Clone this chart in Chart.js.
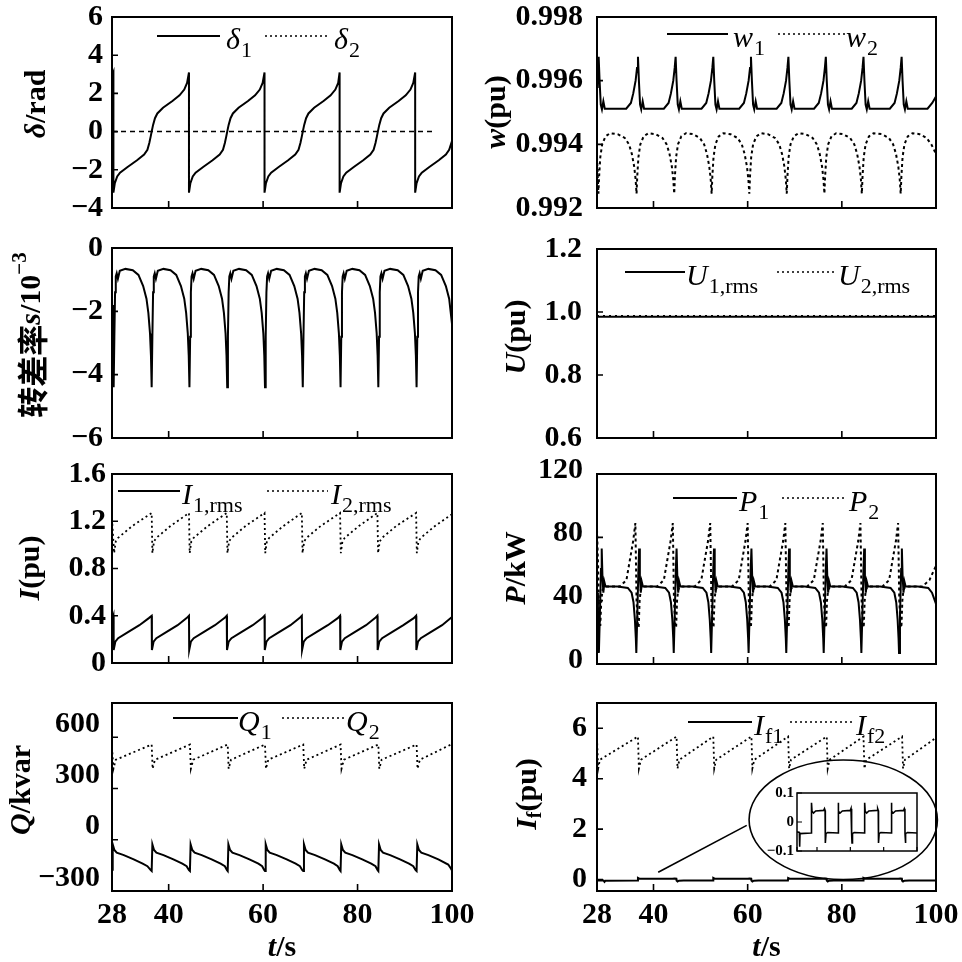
<!DOCTYPE html>
<html>
<head>
<meta charset="utf-8">
<script src="https://cdn.jsdelivr.net/npm/chart.js@4.4.1/dist/chart.umd.min.js"></script>
<style>
  html, body { margin: 0; padding: 0; background: #fff; }
  #wrap { position: relative; width: 962px; height: 962px; overflow: hidden; background: #fff; }
  #wrap canvas { position: absolute; left: 0; top: 0; }
</style>
</head>
<body>
<div id="wrap"></div>
<script>
// time axis (s)
const tAxis = [28, 40, 60, 80, 100];
const tAxisLabels = ['28', '40', '60', '80', '100'];

// rotor angle (rad)
const deltaTicks = [-4, -2, 0, 2, 4, 6];
const deltaTickLabels = ['\u22124', '\u22122', '0', '2', '4', '6'];
const delta1 = [[28,2.9],[28.3,3.1],[28.3,-3.2],[28.6,-2.7],[29.1,-2.35],[29.7,-2.15],[31.3,-1.85],[33.3,-1.5],[34.8,-1.2],[35.5,-0.95],[35.9,-0.6],[36.2,-0.25],[36.4,0],[36.7,0.35],[37.1,0.7],[37.6,0.95],[38.8,1.25],[40.8,1.6],[42.3,1.9],[43.3,2.2],[43.9,2.55],[44.3,3.1],
  [44.3,-3.2],[44.6,-2.7],[45.1,-2.35],[45.7,-2.15],[47.3,-1.85],[49.3,-1.5],[50.8,-1.2],[51.5,-0.95],[51.9,-0.6],[52.2,-0.25],[52.4,0],[52.7,0.35],[53.1,0.7],[53.6,0.95],[54.8,1.25],[56.8,1.6],[58.3,1.9],[59.3,2.2],[59.9,2.55],[60.3,3.1],
  [60.3,-3.2],[60.6,-2.7],[61.1,-2.35],[61.7,-2.15],[63.3,-1.85],[65.3,-1.5],[66.8,-1.2],[67.5,-0.95],[67.9,-0.6],[68.2,-0.25],[68.4,0],[68.7,0.35],[69.1,0.7],[69.6,0.95],[70.8,1.25],[72.8,1.6],[74.3,1.9],[75.3,2.2],[75.9,2.55],[76.2,3.1],
  [76.2,-3.2],[76.5,-2.7],[77.0,-2.35],[77.6,-2.15],[79.2,-1.85],[81.2,-1.5],[82.7,-1.2],[83.4,-0.95],[83.8,-0.6],[84.1,-0.25],[84.3,0],[84.6,0.35],[85.0,0.7],[85.5,0.95],[86.7,1.25],[88.7,1.6],[90.2,1.9],[91.2,2.2],[91.8,2.55],[92.2,3.1],
  [92.2,-3.2],[92.5,-2.7],[93.0,-2.35],[93.6,-2.15],[95.2,-1.85],[97.2,-1.5],[98.7,-1.2],[99.4,-0.95],[100,-0.5]];
const delta2 = [[28,0],[96.5,0]];

// speed (pu)
const wTicks = [0.992, 0.994, 0.996, 0.998];
const wTickLabels = ['0.992', '0.994', '0.996', '0.998'];
const w1 = [[28,0.9958],[28.15,0.9963],[28.35,0.99675],[28.55,0.996],[28.8,0.99525],[29.05,0.9951],[29.35,0.99535],[29.65,0.99512],
  [34.2,0.99512],[35.2,0.9953],[35.7,0.9956],[36.2,0.996],[36.5,0.9964],[36.7,0.99675],[36.9,0.996],[37.15,0.99525],[37.4,0.9951],[37.7,0.99535],[38.0,0.99512],
  [42.2,0.99512],[43.2,0.9953],[43.7,0.9956],[44.2,0.996],[44.5,0.9964],[44.7,0.99675],[44.9,0.996],[45.15,0.99525],[45.4,0.9951],[45.7,0.99535],[46.0,0.99512],
  [50.2,0.99512],[51.2,0.9953],[51.7,0.9956],[52.2,0.996],[52.5,0.9964],[52.7,0.99675],[52.9,0.996],[53.15,0.99525],[53.4,0.9951],[53.7,0.99535],[54.0,0.99512],
  [58.2,0.99512],[59.2,0.9953],[59.7,0.9956],[60.2,0.996],[60.5,0.9964],[60.7,0.99675],[60.9,0.996],[61.15,0.99525],[61.4,0.9951],[61.7,0.99535],[62.0,0.99512],
  [66.15,0.99512],[67.15,0.9953],[67.65,0.9956],[68.15,0.996],[68.45,0.9964],[68.65,0.99675],[68.85,0.996],[69.1,0.99525],[69.35,0.9951],[69.65,0.99535],[69.95,0.99512],
  [74.1,0.99512],[75.1,0.9953],[75.6,0.9956],[76.1,0.996],[76.4,0.9964],[76.6,0.99675],[76.8,0.996],[77.05,0.99525],[77.3,0.9951],[77.6,0.99535],[77.9,0.99512],
  [82.1,0.99512],[83.1,0.9953],[83.6,0.9956],[84.1,0.996],[84.4,0.9964],[84.6,0.99675],[84.8,0.996],[85.05,0.99525],[85.3,0.9951],[85.6,0.99535],[85.9,0.99512],
  [90.2,0.99512],[91.2,0.9953],[91.7,0.9956],[92.2,0.996],[92.5,0.9964],[92.7,0.99675],[92.9,0.996],[93.15,0.99525],[93.4,0.9951],[93.7,0.99535],[94.0,0.99512],
  [98.2,0.99512],[99.2,0.9953],[100,0.9955]];
const w2 = [[28,0.9936],[28.15,0.993],[28.3,0.99245],[28.45,0.993],[28.7,0.9936],[29.1,0.994],[29.8,0.99425],[30.8,0.99435],
  [32.4,0.99432],[33.9,0.9942],[34.8,0.994],[35.4,0.9937],[35.9,0.9933],[36.2,0.9929],[36.4,0.99245],[36.55,0.993],[36.8,0.9936],[37.2,0.994],[37.9,0.99425],[38.9,0.99435],
  [40.4,0.99432],[41.9,0.9942],[42.8,0.994],[43.4,0.9937],[43.9,0.9933],[44.2,0.9929],[44.4,0.99245],[44.55,0.993],[44.8,0.9936],[45.2,0.994],[45.9,0.99425],[46.9,0.99435],
  [48.35,0.99432],[49.85,0.9942],[50.75,0.994],[51.35,0.9937],[51.85,0.9933],[52.15,0.9929],[52.35,0.99245],[52.5,0.993],[52.75,0.9936],[53.15,0.994],[53.85,0.99425],[54.85,0.99435],
  [56.35,0.99432],[57.85,0.9942],[58.75,0.994],[59.35,0.9937],[59.85,0.9933],[60.15,0.9929],[60.35,0.99245],[60.5,0.993],[60.75,0.9936],[61.15,0.994],[61.85,0.99425],[62.85,0.99435],
  [64.3,0.99432],[65.8,0.9942],[66.7,0.994],[67.3,0.9937],[67.8,0.9933],[68.1,0.9929],[68.3,0.99245],[68.45,0.993],[68.7,0.9936],[69.1,0.994],[69.8,0.99425],[70.8,0.99435],
  [72.3,0.99432],[73.8,0.9942],[74.7,0.994],[75.3,0.9937],[75.8,0.9933],[76.1,0.9929],[76.3,0.99245],[76.45,0.993],[76.7,0.9936],[77.1,0.994],[77.8,0.99425],[78.8,0.99435],
  [80.25,0.99432],[81.75,0.9942],[82.65,0.994],[83.25,0.9937],[83.75,0.9933],[84.05,0.9929],[84.25,0.99245],[84.4,0.993],[84.65,0.9936],[85.05,0.994],[85.75,0.99425],[86.75,0.99435],
  [88.5,0.99432],[90.0,0.9942],[90.9,0.994],[91.5,0.9937],[92.0,0.9933],[92.3,0.9929],[92.5,0.99245],[92.65,0.993],[92.9,0.9936],[93.3,0.994],[94.0,0.99425],[95.0,0.99435],
  [96.5,0.99432],[98.0,0.9942],[99.0,0.994],[100,0.9937]];

// slip (x 10^-3)
const slipTicks = [-6, -4, -2, 0];
const slipTickLabels = ['\u22126', '\u22124', '\u22122', '0'];
const slip = [[28,-1.8],[28.2,-3.4],[28.35,-4.4],[28.5,-2.8],[28.65,-1.4],[28.8,-0.9],[29.0,-0.8],[29.25,-0.97],[29.65,-0.72],[30.85,-0.66],
  [32.4,-0.7],[33.6,-0.85],[34.6,-1.2],[35.3,-1.6],[35.7,-2.05],[36.05,-2.7],[36.25,-3.4],[36.4,-4.4],[36.55,-2.8],[36.7,-1.4],[36.85,-0.9],[37.05,-0.8],[37.3,-0.97],[37.7,-0.72],[38.9,-0.66],
  [40.4,-0.7],[41.6,-0.85],[42.6,-1.2],[43.3,-1.6],[43.7,-2.05],[44.05,-2.7],[44.25,-3.4],[44.4,-4.4],[44.55,-2.8],[44.7,-1.4],[44.85,-0.9],[45.05,-0.8],[45.3,-0.97],[45.7,-0.72],[46.9,-0.66],
  [48.4,-0.7],[49.6,-0.85],[50.6,-1.2],[51.3,-1.6],[51.7,-2.05],[52.05,-2.7],[52.25,-3.4],[52.4,-4.4],[52.55,-2.8],[52.7,-1.4],[52.85,-0.9],[53.05,-0.8],[53.3,-0.97],[53.7,-0.72],[54.9,-0.66],
  [56.4,-0.7],[57.6,-0.85],[58.6,-1.2],[59.3,-1.6],[59.7,-2.05],[60.05,-2.7],[60.25,-3.4],[60.4,-4.4],[60.55,-2.8],[60.7,-1.4],[60.85,-0.9],[61.05,-0.8],[61.3,-0.97],[61.7,-0.72],[62.9,-0.66],
  [64.4,-0.7],[65.6,-0.85],[66.6,-1.2],[67.3,-1.6],[67.7,-2.05],[68.05,-2.7],[68.25,-3.4],[68.4,-4.4],[68.55,-2.8],[68.7,-1.4],[68.85,-0.9],[69.05,-0.8],[69.3,-0.97],[69.7,-0.72],[70.9,-0.66],
  [72.4,-0.7],[73.6,-0.85],[74.6,-1.2],[75.3,-1.6],[75.7,-2.05],[76.05,-2.7],[76.25,-3.4],[76.4,-4.4],[76.55,-2.8],[76.7,-1.4],[76.85,-0.9],[77.05,-0.8],[77.3,-0.97],[77.7,-0.72],[78.9,-0.66],
  [80.4,-0.7],[81.6,-0.85],[82.6,-1.2],[83.3,-1.6],[83.7,-2.05],[84.05,-2.7],[84.25,-3.4],[84.4,-4.4],[84.55,-2.8],[84.7,-1.4],[84.85,-0.9],[85.05,-0.8],[85.3,-0.97],[85.7,-0.72],[86.9,-0.66],
  [88.5,-0.7],[89.7,-0.85],[90.7,-1.2],[91.4,-1.6],[91.8,-2.05],[92.15,-2.7],[92.35,-3.4],[92.5,-4.4],[92.65,-2.8],[92.8,-1.4],[92.95,-0.9],[93.15,-0.8],[93.4,-0.97],[93.8,-0.72],[95.0,-0.66],
  [96.5,-0.7],[97.7,-0.85],[98.7,-1.2],[99.4,-1.6],[100,-2.4]];

// terminal voltage (pu)
const uTicks = [0.6, 0.8, 1.0, 1.2];
const uTickLabels = ['0.6', '0.8', '1.0', '1.2'];
const u1 = [[28,0.985],[100,0.985]];
const u2 = [[28,0.988],[100,0.988]];

// stator current (pu)
const iTicks = [0, 0.4, 0.8, 1.2, 1.6];
const iTickLabels = ['0', '0.4', '0.8', '1.2', '1.6'];
const i1 = [[28,0.36],[28.3,0.4],[28.35,0.11],[28.7,0.18],[29.3,0.21],[31.3,0.26],[33.8,0.32],[35.8,0.38],
  [36.4,0.40],[36.45,0.11],[36.8,0.18],[37.4,0.21],[39.4,0.26],[41.9,0.32],[43.8,0.38],
  [44.3,0.40],[44.35,0.11],[44.7,0.18],[45.3,0.21],[47.3,0.26],[49.8,0.32],[51.8,0.38],
  [52.3,0.40],[52.35,0.11],[52.7,0.18],[53.3,0.21],[55.3,0.26],[57.8,0.32],[59.8,0.38],
  [60.3,0.40],[60.35,0.11],[60.7,0.18],[61.3,0.21],[63.3,0.26],[65.8,0.32],[67.7,0.38],
  [68.2,0.40],[68.25,0.11],[68.6,0.18],[69.2,0.21],[71.2,0.26],[73.7,0.32],[75.8,0.38],
  [76.3,0.40],[76.35,0.11],[76.7,0.18],[77.3,0.21],[79.3,0.26],[81.8,0.32],[83.7,0.38],
  [84.2,0.40],[84.25,0.11],[84.6,0.18],[85.2,0.21],[87.2,0.26],[89.7,0.32],[91.9,0.38],
  [92.4,0.40],[92.45,0.11],[92.8,0.18],[93.4,0.21],[95.4,0.26],[97.9,0.32],[100,0.39]];
const i2 = [[28,1.22],[28.45,0.93],[28.8,1.03],[29.3,1.06],[32.3,1.16],
  [36.4,1.27],[36.55,0.93],[36.9,1.03],[37.4,1.06],[40.4,1.16],
  [44.3,1.27],[44.45,0.93],[44.8,1.03],[45.3,1.06],[48.3,1.16],
  [52.3,1.27],[52.45,0.93],[52.8,1.03],[53.3,1.06],[56.3,1.16],
  [60.3,1.27],[60.45,0.93],[60.8,1.03],[61.3,1.06],[64.3,1.16],
  [68.2,1.27],[68.35,0.93],[68.7,1.03],[69.2,1.06],[72.2,1.16],
  [76.3,1.27],[76.45,0.93],[76.8,1.03],[77.3,1.06],[80.3,1.16],
  [84.2,1.27],[84.35,0.93],[84.7,1.03],[85.2,1.06],[88.2,1.16],
  [92.4,1.27],[92.55,0.93],[92.9,1.03],[93.4,1.06],[96.4,1.16],[100,1.26]];

// active power (kW)
const pTicks = [0, 40, 80, 120];
const pTickLabels = ['0', '40', '80', '120'];
const p1 = [[28,45],[28.2,20],[28.4,7],[28.6,30],[28.85,60],[29.0,73],[29.15,56],[29.35,45],[29.55,52],[29.8,49],
  [32.35,49],[34.55,48],[35.35,45],[35.75,39],[36.05,28],[36.25,16],[36.35,7],[36.55,30],[36.8,60],[36.95,73],[37.1,56],[37.3,45],[37.5,52],[37.75,49],
  [40.3,49],[42.5,48],[43.3,45],[43.7,39],[44.0,28],[44.2,16],[44.3,7],[44.5,30],[44.75,60],[44.9,73],[45.05,56],[45.25,45],[45.45,52],[45.7,49],
  [48.25,49],[50.45,48],[51.25,45],[51.65,39],[51.95,28],[52.15,16],[52.25,7],[52.45,30],[52.7,60],[52.85,73],[53.0,56],[53.2,45],[53.4,52],[53.65,49],
  [56.2,49],[58.4,48],[59.2,45],[59.6,39],[59.9,28],[60.1,16],[60.2,7],[60.4,30],[60.65,60],[60.8,73],[60.95,56],[61.15,45],[61.35,52],[61.6,49],
  [64.2,49],[66.4,48],[67.2,45],[67.6,39],[67.9,28],[68.1,16],[68.2,7],[68.4,30],[68.65,60],[68.8,73],[68.95,56],[69.15,45],[69.35,52],[69.6,49],
  [72.15,49],[74.35,48],[75.15,45],[75.55,39],[75.85,28],[76.05,16],[76.15,7],[76.35,30],[76.6,60],[76.75,73],[76.9,56],[77.1,45],[77.3,52],[77.55,49],
  [80.15,49],[82.35,48],[83.15,45],[83.55,39],[83.85,28],[84.05,16],[84.15,7],[84.35,30],[84.6,60],[84.75,73],[84.9,56],[85.1,45],[85.3,52],[85.55,49],
  [88.15,49],[90.35,48],[91.15,45],[91.55,39],[91.85,28],[92.05,16],[92.15,7],[92.35,30],[92.6,60],[92.75,73],[92.9,56],[93.1,45],[93.3,52],[93.55,49],
  [96.15,49],[98.35,48],[99.15,45],[100,38]];
const p2 = [[28,85],[28.25,60],[28.45,30],[28.7,24],[28.9,40],[29.2,47],[29.8,49],
  [32.85,49],[34.25,53],[35.0,66],[35.7,78],[36.15,89],[36.4,40],[36.65,26],[36.85,23],[37.05,40],[37.3,47],[37.75,49],
  [40.8,49],[42.2,53],[42.95,66],[43.65,78],[44.1,89],[44.35,40],[44.6,26],[44.8,23],[45.0,40],[45.25,47],[45.7,49],
  [48.75,49],[50.15,53],[50.9,66],[51.6,78],[52.05,89],[52.3,40],[52.55,26],[52.75,23],[52.95,40],[53.2,47],[53.65,49],
  [56.7,49],[58.1,53],[58.85,66],[59.55,78],[60.0,89],[60.25,40],[60.5,26],[60.7,23],[60.9,40],[61.15,47],[61.6,49],
  [64.7,49],[66.1,53],[66.85,66],[67.55,78],[68.0,89],[68.25,40],[68.5,26],[68.7,23],[68.9,40],[69.15,47],[69.6,49],
  [72.65,49],[74.05,53],[74.8,66],[75.5,78],[75.95,89],[76.2,40],[76.45,26],[76.65,23],[76.85,40],[77.1,47],[77.55,49],
  [80.65,49],[82.05,53],[82.8,66],[83.5,78],[83.95,89],[84.2,40],[84.45,26],[84.65,23],[84.85,40],[85.1,47],[85.55,49],
  [88.65,49],[90.05,53],[90.8,66],[91.5,78],[91.95,89],[92.2,40],[92.45,26],[92.65,23],[92.85,40],[93.1,47],[93.55,49],
  [97.15,49],[98.6,53],[100,62]];

// reactive power (kvar)
const qTicks = [-300, 0, 300, 600];
const qTickLabels = ['\u2212300', '0', '300', '600'];
const q1 = [[28,-175],[28.15,-27],[28.5,-60],[29.0,-76],[30.5,-90],[32.6,-115],[34.5,-140],[35.5,-155],[36.2,-178],[36.4,-183],
  [36.55,-27],[36.9,-60],[37.4,-76],[38.9,-90],[41.0,-115],[42.9,-140],[43.8,-155],[44.3,-178],[44.5,-183],
  [44.65,-27],[45.0,-60],[45.5,-76],[47.0,-90],[49.1,-115],[51.0,-140],[51.9,-155],[52.35,-178],[52.5,-183],
  [52.65,-27],[53.0,-60],[53.5,-76],[55.0,-90],[57.1,-115],[59.0,-140],[59.8,-155],[60.25,-178],[60.4,-183],
  [60.55,-27],[60.9,-60],[61.4,-76],[62.9,-90],[65.0,-115],[66.9,-140],[67.8,-155],[68.3,-178],[68.5,-183],
  [68.65,-27],[69.0,-60],[69.5,-76],[71.0,-90],[73.1,-115],[75.0,-140],[75.8,-155],[76.25,-178],[76.4,-183],
  [76.55,-27],[76.9,-60],[77.4,-76],[78.9,-90],[81.0,-115],[82.9,-140],[83.8,-155],[84.25,-178],[84.4,-183],
  [84.55,-27],[84.9,-60],[85.4,-76],[86.9,-90],[89.0,-115],[90.9,-140],[91.8,-155],[92.3,-178],[92.5,-183],
  [92.65,-27],[93.0,-60],[93.5,-76],[95.0,-90],[97.1,-115],[99.2,-145],[99.8,-170],[100,-180]];
const q2 = [[28,540],[28.3,415],[28.8,468],
  [36.4,557],[36.6,415],[37.1,468],
  [44.5,557],[44.7,415],[45.2,468],
  [52.5,557],[52.7,415],[53.2,468],
  [60.4,557],[60.6,415],[61.1,468],
  [68.5,557],[68.7,415],[69.2,468],
  [76.4,557],[76.6,415],[77.1,468],
  [84.4,557],[84.6,415],[85.1,468],
  [92.5,557],[92.7,415],[93.2,468],
  [100,560]];

// field current (pu)
const ifTicks = [0, 2, 4, 6];
const ifTickLabels = ['0', '2', '4', '6'];
const if1 = [[28,-0.034],[29.4,-0.036],[29.6,-0.085],[29.8,-0.04],[36.65,-0.038],
  [36.7,0.066],[37.0,0.037],[37.9,0.031],[39.2,0.038],[44.0,0.04],[44.5,0.046],[44.85,0.04],
  [44.9,-0.04],[45.1,-0.072],[45.4,-0.04],[46.4,-0.036],[52.65,-0.038],
  [52.7,0.066],[53.0,0.037],[53.9,0.031],[55.2,0.038],[60.0,0.04],[60.4,0.046],[60.75,0.04],
  [60.8,-0.04],[61.0,-0.072],[61.3,-0.04],[62.3,-0.036],[68.55,-0.038],
  [68.6,0.066],[68.9,0.037],[69.8,0.031],[71.1,0.038],[76.0,0.04],[76.4,0.046],[76.75,0.04],
  [76.8,-0.04],[77.0,-0.072],[77.3,-0.04],[78.3,-0.036],[84.55,-0.038],
  [84.6,0.066],[84.9,0.037],[85.8,0.031],[87.1,0.038],[92.0,0.04],[92.4,0.046],[92.75,0.04],
  [92.8,-0.04],[93.0,-0.072],[93.3,-0.04],[94.3,-0.036],[100,-0.038]];
const if2 = [[28,5.6],[28.25,4.4],[28.6,4.75],
  [36.7,5.67],[36.9,4.4],[37.3,4.75],
  [44.9,5.67],[45.1,4.4],[45.5,4.75],
  [52.7,5.67],[52.9,4.4],[53.3,4.75],
  [60.8,5.67],[61.0,4.4],[61.4,4.75],
  [68.6,5.67],[68.8,4.4],[69.2,4.75],
  [76.8,5.67],[77.0,4.4],[77.4,4.75],
  [84.6,5.67],[84.8,4.4],[85.2,4.75],
  [92.8,5.67],[93.0,4.4],[93.4,4.75],
  [100,5.62]];
const insetTicks = [-0.1, 0, 0.1];
const insetTickLabels = ['\u22120.1', '0', '0.1'];

const SERIF = '"Liberation Serif", "Times New Roman", serif';
const FONTS = {
  n: 'bold 30px ' + SERIF,
  i: 'italic bold 30px ' + SERIF,
  c: 'bold 31px "Noto Sans CJK SC", sans-serif',
  sup: 'bold 21px ' + SERIF,
  sub: 'bold 20px ' + SERIF
};
const LEG_MAIN = 'italic 30px ' + SERIF;
const LEG_SUB = '22px ' + SERIF;

function richWidth(ctx, parts) {
  let w = 0;
  parts.forEach(([t, s]) => { ctx.font = FONTS[s]; w += ctx.measureText(t).width; });
  return w;
}
function drawRich(ctx, parts, x, y) {
  parts.forEach(([t, s, dy]) => {
    ctx.font = FONTS[s];
    ctx.fillText(t, x, y + (dy || 0));
    x += ctx.measureText(t).width;
  });
}

function decor(p) {
  return {
    id: 'decor',
    afterDraw(chart) {
      const ctx = chart.ctx, a = chart.chartArea;
      const xs = chart.scales.x, ys = chart.scales.y;
      ctx.save();
      ctx.fillStyle = '#000';
      ctx.strokeStyle = '#000';
      ctx.setLineDash([]);
      // frame + inward ticks
      ctx.lineWidth = p.frameW || 2;
      ctx.strokeRect(a.left, a.top, a.right - a.left, a.bottom - a.top);
      ctx.lineWidth = p.tickW || 1.6;
      ctx.beginPath();
      tAxis.forEach(v => {
        const x = xs.getPixelForValue(v);
        ctx.moveTo(x, a.bottom); ctx.lineTo(x, a.bottom - (p.xTickLen || 7));
      });
      p.ticks.forEach(v => {
        const y = ys.getPixelForValue(v);
        ctx.moveTo(a.left, y); ctx.lineTo(a.left + (p.yTickLen || 6), y);
      });
      ctx.stroke();

      // y axis title (rotated)
      if (p.title) {
        ctx.save();
        ctx.translate(p.title.x, p.title.y);
        ctx.rotate(-Math.PI / 2);
        ctx.textBaseline = 'middle';
        ctx.textAlign = 'left';
        const w = richWidth(ctx, p.title.parts);
        drawRich(ctx, p.title.parts, -w / 2, 0);
        ctx.restore();
      }
      // x axis title
      if (p.bottom) {
        const parts = [['t', 'i'], ['/s', 'n']];
        ctx.textBaseline = 'middle';
        const w = richWidth(ctx, parts);
        drawRich(ctx, parts, (a.left + a.right) / 2 - w / 2, 948);
      }
      // legend
      if (p.legend) {
        const ly = p.legend.y;
        p.legend.items.forEach(([x0, x1, dotted, tx, main, sub]) => {
          ctx.lineWidth = dotted ? 1.5 : 2;
          ctx.setLineDash(dotted ? [2, 3] : []);
          ctx.beginPath(); ctx.moveTo(x0, ly); ctx.lineTo(x1, ly); ctx.stroke();
          ctx.setLineDash([]);
          ctx.textBaseline = 'alphabetic';
          ctx.font = LEG_MAIN;
          ctx.fillText(main, tx, ly + 13);
          const mw = ctx.measureText(main).width;
          ctx.font = LEG_SUB;
          ctx.fillText(sub, tx + mw + 1, ly + 21);
        });
      }
      // zoom ellipse and pointer
      if (p.zoomMark) {
        const z = p.zoomMark;
        const cx = xs.getPixelForValue(z.t), cy = ys.getPixelForValue(z.v);
        const rx = xs.getPixelForValue(z.t + z.rt) - cx;
        const ry = cy - ys.getPixelForValue(z.v + z.rv);
        ctx.lineWidth = 1.6;
        ctx.beginPath(); ctx.ellipse(cx, cy, rx, ry, 0, 0, Math.PI * 2); ctx.stroke();
        ctx.beginPath();
        ctx.moveTo(xs.getPixelForValue(z.from[0]), ys.getPixelForValue(z.from[1]));
        ctx.lineTo(xs.getPixelForValue(z.to[0]), ys.getPixelForValue(z.to[1]));
        ctx.stroke();
      }
      ctx.restore();
    }
  };
}

const wrap = document.getElementById('wrap');

function buildChart(p) {
  const cv = document.createElement('canvas');
  cv.width = 962; cv.height = 962;
  cv.style.width = '962px'; cv.style.height = '962px';
  wrap.appendChild(cv);
  const [l, t, r, b] = p.box;
  const yW = p.yW || 100;
  const xH = p.bottom ? 60 : 0;
  const fontSize = p.fontSize || 30;
  return new Chart(cv, {
    type: 'line',
    data: {
      datasets: p.series.map(s => ({
        data: s.d.map(q => ({ x: q[0], y: q[1] })),
        borderColor: '#000',
        borderWidth: s.w || 2,
        borderDash: s.dash || [],
        pointRadius: 0,
        tension: 0,
        fill: false
      }))
    },
    options: {
      responsive: false,
      animation: false,
      devicePixelRatio: 1,
      events: [],
      layout: { padding: { left: l - yW, top: t, right: 962 - r, bottom: 962 - b - xH } },
      plugins: { legend: { display: false }, tooltip: { enabled: false } },
      scales: {
        x: {
          type: 'linear', min: 28, max: 100,
          grid: { display: false, drawTicks: false },
          border: { display: false },
          afterBuildTicks: sc => { sc.ticks = tAxis.map(v => ({ value: v })); },
          afterFit: sc => { sc.height = xH; sc.paddingLeft = 0; sc.paddingRight = 0; },
          ticks: {
            display: !!p.bottom, autoSkip: false, maxRotation: 0, padding: 6, color: '#000',
            font: { family: SERIF, size: 30, weight: 'bold' },
            callback: (v, i) => tAxisLabels[i]
          }
        },
        y: {
          type: 'linear', min: p.y[0], max: p.y[1],
          grid: { display: false, drawTicks: false },
          border: { display: false },
          afterBuildTicks: sc => { sc.ticks = p.ticks.map(v => ({ value: v })); },
          afterFit: sc => { sc.width = yW; sc.paddingTop = 0; sc.paddingBottom = 0; },
          ticks: {
            autoSkip: false, padding: p.pad, labelOffset: p.off || 0, color: '#000',
            font: { family: SERIF, size: fontSize, weight: 'bold' },
            callback: (v, i) => p.labels[i]
          }
        }
      }
    },
    plugins: [decor(p)]
  });
}

const panels = [
  { box: [112, 17, 452, 208], y: [-4, 6], ticks: deltaTicks, labels: deltaTickLabels, pad: 9,
    series: [{ d: delta1 }, { d: delta2, dash: [5, 4], w: 1.5 }],
    title: { x: 37, y: 104, parts: [['\u03b4', 'i'], ['/rad', 'n']] },
    legend: { y: 36, items: [[157, 220, false, 226, '\u03b4', '1'], [265, 328, true, 334, '\u03b4', '2']] } },
  { box: [597, 17, 936, 208], y: [0.992, 0.998], ticks: wTicks, labels: wTickLabels, pad: 14,
    series: [{ d: w1 }, { d: w2, dash: [3, 3], w: 2 }],
    title: { x: 497, y: 112, parts: [['w', 'i'], ['(pu)', 'n']] },
    legend: { y: 34, items: [[667, 728, false, 733, 'w', '1'], [778, 845, true, 846, 'w', '2']] } },
  { box: [112, 248, 452, 438], y: [-6, 0], ticks: slipTicks, labels: slipTickLabels, pad: 9,
    series: [{ d: slip }],
    title: { x: 32, y: 335, parts: [['\u8f6c\u5dee\u7387', 'c'], ['s', 'i'], ['/10', 'n'], ['\u22123', 'sup', -11]] } },
  { box: [597, 249, 936, 438], y: [0.6, 1.2], ticks: uTicks, labels: uTickLabels, pad: 15,
    series: [{ d: u1 }, { d: u2, dash: [2, 4], w: 1.5 }],
    title: { x: 517, y: 337, parts: [['U', 'i'], ['(pu)', 'n']] },
    legend: { y: 272, items: [[625, 685, false, 686, 'U', '1,rms'], [777, 837, true, 838, 'U', '2,rms']] } },
  { box: [112, 474, 452, 663], y: [0, 1.6], ticks: iTicks, labels: iTickLabels, pad: 6,
    series: [{ d: i1 }, { d: i2, dash: [2, 3], w: 1.8 }],
    title: { x: 31, y: 568, parts: [['I', 'i'], ['(pu)', 'n']] },
    legend: { y: 491, items: [[118, 180, false, 182, 'I', '1,rms'], [267, 328, true, 331, 'I', '2,rms']] } },
  { box: [597, 474, 936, 664], y: [0, 120], ticks: pTicks, labels: pTickLabels, pad: 14, off: -4,
    series: [{ d: p1 }, { d: p2, dash: [3, 3], w: 2 }],
    title: { x: 517, y: 568, parts: [['P', 'i'], ['/kW', 'n']] },
    legend: { y: 498, items: [[673, 737, false, 739, 'P', '1'], [782, 847, true, 849, 'P', '2']] } },
  { box: [112, 703, 452, 891], y: [-300, 800], ticks: qTicks, labels: qTickLabels, pad: 12, off: -13, bottom: true,
    series: [{ d: q1 }, { d: q2, dash: [2, 3], w: 1.8 }],
    title: { x: 22, y: 790, parts: [['Q', 'i'], ['/kvar', 'n']] },
    legend: { y: 718, items: [[173, 238, false, 238, 'Q', '1'], [282, 345, true, 346, 'Q', '2']] } },
  { box: [597, 703, 936, 891], y: [-0.45, 7], ticks: ifTicks, labels: ifTickLabels, pad: 10, bottom: true,
    series: [{ d: if1 }, { d: if2, dash: [2, 3], w: 1.8 }],
    title: { x: 528, y: 794, parts: [['I', 'i'], ['f', 'sub', 8], ['(pu)', 'n']] },
    legend: { y: 722, items: [[688, 752, false, 754, 'I', 'f1'], [790, 855, true, 856, 'I', 'f2']] },
    zoomMark: { t: 80.3, v: 2.37, rt: 20, rv: 2.37, from: [41.0, 0.29], to: [59.8, 2.15] } },
  // inset: zoom of I_f1
  { box: [797, 793, 917, 851], y: [-0.1, 0.1], ticks: insetTicks, labels: insetTickLabels, pad: 3,
    yW: 40, fontSize: 15, frameW: 1.5, tickW: 1.2, xTickLen: 4, yTickLen: 5,
    series: [{ d: if1, w: 1.6 }] }
];

panels.forEach(buildChart);
</script>
</body>
</html>
